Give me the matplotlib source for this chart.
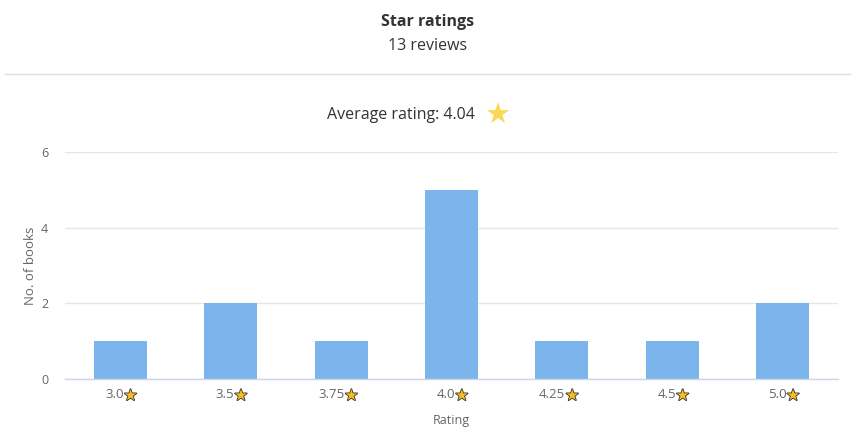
import matplotlib
matplotlib.use("Agg")
import matplotlib.pyplot as plt
import matplotlib.patheffects as pe
from matplotlib.lines import Line2D
import numpy as np

categories = ["3.0", "3.5", "3.75", "4.0", "4.25", "4.5", "5.0"]
counts = [1, 2, 1, 5, 1, 1, 2]
yticks = [0, 2, 4, 6]
title = "Star ratings"
subtitle = "13 reviews"
avg_label = "Average rating: 4.04"

plt.rcParams['font.family'] = ['Open Sans', 'DejaVu Sans']

fig = plt.figure(figsize=(8.56, 4.28), dpi=100)
ax = fig.add_axes([65/856, 1-379/428, (838-65)/856, (379-152)/428])

x = np.arange(len(categories))
ax.bar(x, counts, width=0.48, color="#7cb5ec", zorder=2)
ax.set_xlim(-0.5, len(categories)-0.5)
ax.set_ylim(0, 6)
ax.set_yticks(yticks)
ax.set_yticklabels([str(t) for t in yticks], fontsize=9, color="#666666")
ax.tick_params(axis='y', length=0, pad=12)
ax.tick_params(axis='x', length=0)
ax.set_xticks(x)
ax.set_xticklabels([""] * len(categories))
ax.grid(axis='y', color="#e6e6e6", linewidth=1, zorder=0)
for s in ["top", "right", "left"]:
    ax.spines[s].set_visible(False)
ax.spines["bottom"].set_color("#ccd6eb")
ax.spines["bottom"].set_linewidth(1)
ax.spines["bottom"].set_zorder(3)

trans = ax.get_xaxis_transform()
for xi, lab in zip(x, categories):
    ax.annotate(lab, xy=(xi, 0), xycoords=trans, xytext=(2.5, -11.5), textcoords="offset points",
                ha="right", va="center", fontsize=9.5, color="#666666")
    ax.annotate("\u2605", xy=(xi, 0), xycoords=trans, xytext=(2.5, -12), textcoords="offset points",
                ha="left", va="center", fontsize=11, color="#F6BE1E", family="DejaVu Sans",
                path_effects=[pe.withStroke(linewidth=1.2, foreground="#333333")])

ax.set_xlabel("Rating", fontsize=9, color="#666666", labelpad=22)
ax.set_ylabel("No. of books", fontsize=9.5, color="#666666", labelpad=3)

fig.text(0.5, 1-22/428, title, ha="center", va="center", fontsize=11.5, fontweight="bold", color="#333333")
fig.text(0.5, 1-46/428, subtitle, ha="center", va="center", fontsize=11.5, color="#333333")
fig.add_artist(Line2D([5/856, 850/856], [1-74/428, 1-74/428], color="#e0e0e0", linewidth=1))
fig.text(475/856, 1-115/428, avg_label, ha="right", va="center", fontsize=11.5, color="#333333")
fig.text(484/856, 1-116/428, "\u2605", ha="left", va="center", fontsize=21, color="#FCD757", family="DejaVu Sans")

fig.savefig("out.png", dpi=100)
